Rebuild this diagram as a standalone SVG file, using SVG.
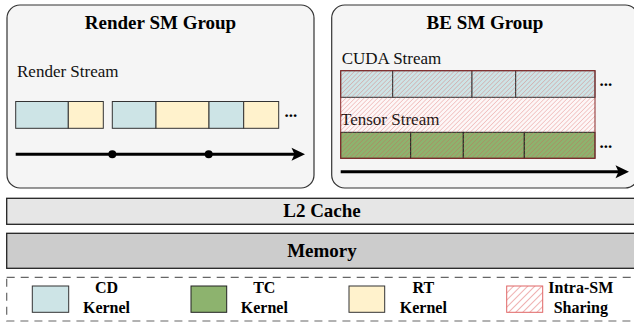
<svg xmlns="http://www.w3.org/2000/svg" width="634" height="324" viewBox="0 0 634 324">
<defs>
<pattern id="hatch" width="3.2" height="3.2" patternUnits="userSpaceOnUse" patternTransform="rotate(45)">
<line x1="0" y1="0" x2="0" y2="3.2" stroke="#d9534f" stroke-width="0.9" stroke-opacity="0.6"/>
</pattern>
<pattern id="hatchL" width="5" height="5" patternUnits="userSpaceOnUse" patternTransform="rotate(45)">
<line x1="0" y1="0" x2="0" y2="5" stroke="#e06666" stroke-width="1"/>
</pattern>
</defs>
<style>
.grp{fill:#f5f5f5;stroke:#333;stroke-width:1.2}
.title{font-weight:bold;font-size:19px;fill:#000;text-anchor:middle}
.lbl{font-size:17px;fill:#111}
.dots{font-weight:bold;font-size:17px;fill:#000}
.leg{font-weight:bold;font-size:16px;fill:#000;text-anchor:middle}
.cd{fill:#cde4e6;stroke:#333;stroke-width:1}
.rt{fill:#fff2cc;stroke:#333;stroke-width:1}
.tc{fill:#8db36e;stroke:#222;stroke-width:1}
.axis{stroke:#000;stroke-width:3;fill:none}
</style>

<g id="render-sm-group" font-family="Liberation Serif, Times New Roman, serif">
<rect class="grp" x="7" y="5" width="307" height="183" rx="13"/>
<text class="title" x="160.5" y="29">Render SM Group</text>
<text class="lbl" x="17" y="77">Render Stream</text>
<rect class="cd" x="15.7" y="101.5" width="52.6" height="26.8"/>
<rect class="rt" x="68.3" y="101.5" width="35" height="26.8"/>
<rect class="cd" x="112.3" y="101.5" width="43.7" height="26.8"/>
<rect class="rt" x="156" y="101.5" width="53" height="26.8"/>
<rect class="cd" x="209" y="101.5" width="34.7" height="26.8"/>
<rect class="rt" x="243.7" y="101.5" width="35" height="26.8"/>
<text class="dots" x="284.5" y="116.5">...</text>
</g>

<g id="be-sm-group" font-family="Liberation Serif, Times New Roman, serif">
<rect class="grp" x="331.7" y="5" width="306.6" height="183" rx="13"/>
<text class="title" x="485" y="29">BE SM Group</text>
<text class="lbl" x="341.7" y="64">CUDA Stream</text>
<rect x="340.7" y="97.3" width="254.3" height="35" fill="#fdf7f7"/>
<rect class="cd" x="340.7" y="70.7" width="52" height="26.6"/>
<rect class="cd" x="392.7" y="70.7" width="79.3" height="26.6"/>
<rect class="cd" x="472" y="70.7" width="43.7" height="26.6"/>
<rect class="cd" x="515.7" y="70.7" width="79.3" height="26.6"/>
<rect class="tc" x="340.7" y="132.3" width="70" height="26"/>
<rect class="tc" x="410.7" y="132.3" width="52.6" height="26"/>
<rect class="tc" x="463.3" y="132.3" width="61" height="26"/>
<rect class="tc" x="524.3" y="132.3" width="70.7" height="26"/>
<text class="lbl" x="341" y="124.7">Tensor Stream</text>
<rect x="340.7" y="70.7" width="254.3" height="87.6" fill="url(#hatch)" stroke="#8b2a2a" stroke-width="1"/>
<text class="dots" x="599.5" y="86">...</text>
<text class="dots" x="599.5" y="148">...</text>
</g>

<g id="connectors">
<line class="axis" x1="15.7" y1="154.3" x2="296" y2="154.3"/>
<path d="M305,154.3 L291.5,147.8 L294.5,154.3 L291.5,160.8 Z" fill="#000"/>
<circle cx="112.3" cy="154.3" r="4" fill="#000"/>
<circle cx="208.7" cy="154.3" r="4" fill="#000"/>
<line class="axis" x1="340.7" y1="171.7" x2="620" y2="171.7"/>
<path d="M629,171.7 L615.5,165.2 L618.5,171.7 L615.5,178.2 Z" fill="#000"/>
</g>

<g id="l2-cache" font-family="Liberation Serif, Times New Roman, serif">
<rect x="6.7" y="198.3" width="631" height="26" fill="#e6e6e6" stroke="#222" stroke-width="1.3"/>
<text class="title" x="322" y="216.7">L2 Cache</text>
</g>

<g id="memory" font-family="Liberation Serif, Times New Roman, serif">
<rect x="6.7" y="233.3" width="631" height="35" fill="#cccccc" stroke="#222" stroke-width="1.3"/>
<text class="title" x="322" y="256.5">Memory</text>
</g>

<g id="legend" font-family="Liberation Serif, Times New Roman, serif">
<rect x="6.7" y="277.3" width="640" height="43.7" fill="#fff" stroke="#666" stroke-width="1.2" stroke-dasharray="8,6"/>
<rect class="cd" x="32.3" y="286" width="36.4" height="26.3"/>
<text class="leg" x="106.5" y="292.5">CD</text>
<text class="leg" x="106.5" y="313">Kernel</text>
<rect class="tc" x="191" y="286" width="35.7" height="26.3"/>
<text class="leg" x="264.3" y="292.5">TC</text>
<text class="leg" x="264.3" y="313">Kernel</text>
<rect class="rt" x="349" y="286" width="35.7" height="26.3"/>
<text class="leg" x="423.3" y="292.5">RT</text>
<text class="leg" x="423.3" y="313">Kernel</text>
<rect x="506.7" y="286" width="36" height="26.3" fill="url(#hatchL)" stroke="#e06666" stroke-width="1"/>
<text class="leg" x="580.8" y="292.5">Intra-SM</text>
<text class="leg" x="580.8" y="313">Sharing</text>
</g>
</svg>
